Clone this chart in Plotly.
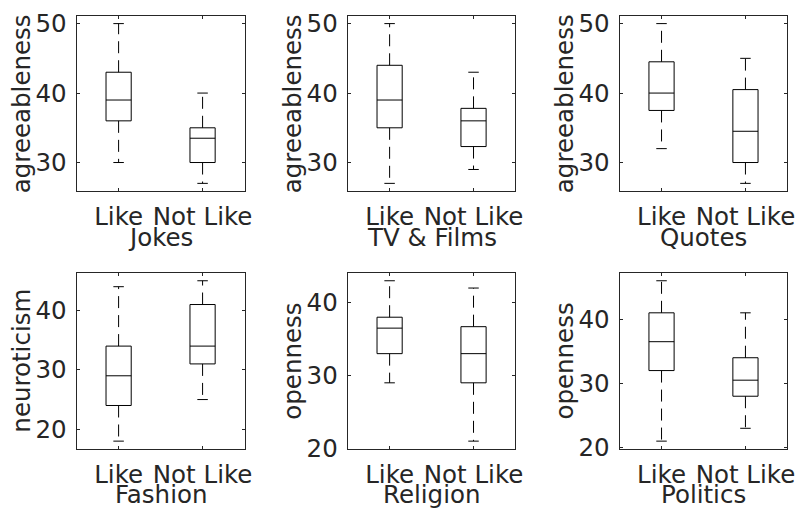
import plotly.graph_objects as go

# ---- data ----
groups = ["Jokes", "TV & Films", "Quotes", "Fashion", "Religion", "Politics"]
ylabels = ["agreeableness", "agreeableness", "agreeableness", "neuroticism", "openness", "openness"]
categories = ["Like", "Not Like"]

# each list: [lower whisker, Q1, median, Q3, upper whisker]
jokes_like = [30, 36, 39, 43, 50]
jokes_notlike = [27, 30, 33.5, 35, 40]
tv_like = [27, 35, 39, 44, 50]
tv_notlike = [29, 32.3, 36, 37.8, 43]
quotes_like = [32, 37.5, 40, 44.5, 50]
quotes_notlike = [27, 30, 34.5, 40.5, 45]
fashion_like = [18, 24, 29, 34, 44]
fashion_notlike = [25, 31, 34, 41, 45]
religion_like = [29, 33, 36.5, 38, 43]
religion_notlike = [21, 29, 33, 36.7, 42]
politics_like = [21, 32, 36.5, 41, 46]
politics_notlike = [23, 28, 30.5, 34, 41]

stats = [
    (jokes_like, jokes_notlike),
    (tv_like, tv_notlike),
    (quotes_like, quotes_notlike),
    (fashion_like, fashion_notlike),
    (religion_like, religion_notlike),
    (politics_like, politics_notlike),
]

# ---- style / layout ----
W, H = 806, 525
FONT = "DejaVu Sans, Liberation Sans, Arial, sans-serif"
TXT = "#262626"
FS = 24.5
BOX_HW = 0.15
CAP_HW = 0.0625
col_px = [(77.3, 246.7), (350.7, 520.0), (625.0, 794.3)]
row_px = [(10.0, 192.7), (277.3, 460.7)]
XTITLE_DY = 47.5    # px below axes bottom to x-title centre
YTITLE_DX = 55.4    # px left of axes left edge to y-title centre

fig = go.Figure()
annotations = []

for i, (g, yl, pair) in enumerate(zip(groups, ylabels, stats)):
    n = i + 1
    xa = "x" if n == 1 else f"x{n}"
    ya = "y" if n == 1 else f"y{n}"
    bx, by, mx, my, wx, wy, cx, cy = [], [], [], [], [], [], [], []
    for k, s in enumerate(pair):
        c = k + 1
        lo, q1, med, q3, hi = s
        bx += [c - BOX_HW, c + BOX_HW, c + BOX_HW, c - BOX_HW, c - BOX_HW, None]
        by += [q1, q1, q3, q3, q1, None]
        mx += [c - BOX_HW, c + BOX_HW, None]
        my += [med, med, None]
        wx += [c, c, None, c, c, None]
        wy += [q3, hi, None, q1, lo, None]
        cx += [c - CAP_HW, c + CAP_HW, None, c - CAP_HW, c + CAP_HW, None]
        cy += [hi, hi, None, lo, lo, None]
    common = dict(mode="lines", xaxis=xa, yaxis=ya, showlegend=False, hoverinfo="skip")
    fig.add_trace(go.Scatter(x=wx, y=wy, line=dict(color="black", width=1, dash="12px,7px"), **common))
    fig.add_trace(go.Scatter(x=cx, y=cy, line=dict(color="black", width=1), **common))
    fig.add_trace(go.Scatter(x=bx, y=by, line=dict(color="black", width=1), **common))
    fig.add_trace(go.Scatter(x=mx, y=my, line=dict(color="black", width=1), **common))

    allv = pair[0] + pair[1]
    mn, mxv = min(allv), max(allv)
    span = mxv - mn
    yr = [mn - 0.05 * span, mxv + 0.05 * span]

    r, cidx = divmod(i, 3)
    x0, x1 = col_px[cidx]
    y0, y1 = row_px[r]
    xkey = "xaxis" if n == 1 else f"xaxis{n}"
    ykey = "yaxis" if n == 1 else f"yaxis{n}"
    axcommon = dict(
        showline=True, linecolor=TXT, linewidth=1, mirror="ticks",
        ticks="inside", ticklen=3, tickwidth=1, tickcolor=TXT,
        showgrid=False, zeroline=False,
        tickfont=dict(family=FONT, size=FS, color=TXT),
    )
    fig.update_layout(**{
        xkey: dict(
            domain=[x0 / W, x1 / W], anchor=ya, range=[0.5, 2.5],
            tickvals=[1, 2], ticktext=categories,
            ticklabelstandoff=3,
            **axcommon,
        ),
        ykey: dict(
            domain=[1 - y1 / H, 1 - y0 / H], anchor=xa, range=yr, dtick=10,
            ticklabelstandoff=4,
            **axcommon,
        ),
    })
    annotations.append(dict(
        text=g, xref="paper", yref="paper",
        x=(x0 + x1) / 2 / W, y=1 - (y1 + XTITLE_DY) / H,
        xanchor="center", yanchor="middle", showarrow=False,
        font=dict(family=FONT, size=FS, color=TXT),
    ))
    annotations.append(dict(
        text=yl, xref="paper", yref="paper",
        x=(x0 - YTITLE_DX) / W, y=1 - (y0 + y1) / 2 / H,
        xanchor="center", yanchor="middle", textangle=-90, showarrow=False,
        font=dict(family=FONT, size=FS, color=TXT),
    ))

fig.update_layout(
    width=W, height=H,
    margin=dict(l=0, r=0, t=0, b=0),
    paper_bgcolor="white", plot_bgcolor="white",
    font=dict(family=FONT, color=TXT),
    annotations=annotations,
)

fig.write_html("out.html")
